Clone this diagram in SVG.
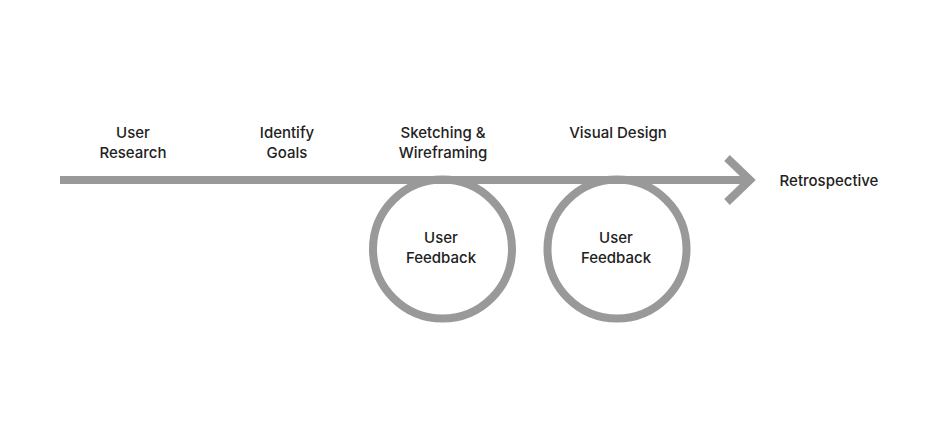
<svg xmlns="http://www.w3.org/2000/svg" width="940" height="440" viewBox="0 0 940 440">
<style>
.lbl{font-family:Inter,"Liberation Sans",sans-serif;font-size:15px;font-weight:500;fill:#222;text-anchor:middle}
.ln{fill:none;stroke:#999;stroke-width:8}
</style>
<rect width="940" height="440" fill="#fff"/>
<g id="connectors">
<line class="ln" x1="60" y1="180" x2="748" y2="180"/>
<polyline class="ln" points="727,158 750,180 727,202"/>
</g>
<g id="fb1"><circle class="ln" cx="442.5" cy="249" r="69.5"/><text class="lbl" x="441" y="243">User</text><text class="lbl" x="441" y="263">Feedback</text></g>
<g id="fb2"><circle class="ln" cx="617" cy="249" r="69.5"/><text class="lbl" x="616" y="243">User</text><text class="lbl" x="616" y="263">Feedback</text></g>
<g id="n1"><text class="lbl" x="133" y="138">User</text><text class="lbl" x="133" y="158">Research</text></g>
<g id="n2"><text class="lbl" x="287" y="138">Identify</text><text class="lbl" x="287" y="158">Goals</text></g>
<g id="n3"><text class="lbl" x="443" y="138">Sketching &amp;</text><text class="lbl" x="443" y="158">Wireframing</text></g>
<g id="n4"><text class="lbl" x="618" y="138">Visual Design</text></g>
<g id="n5"><text class="lbl" x="829" y="186">Retrospective</text></g>
</svg>
